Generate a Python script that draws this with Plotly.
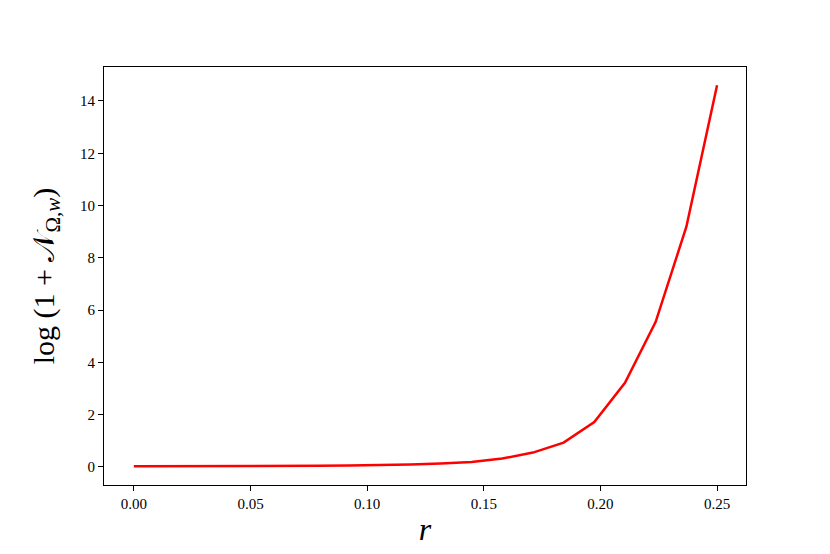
import plotly.graph_objects as go

r_vals = [0.25 * i / 19 for i in range(20)]
log_n = [0.025, 0.025, 0.03, 0.03, 0.035, 0.04, 0.045, 0.055, 0.07, 0.09,
         0.13, 0.19, 0.32, 0.55, 0.93, 1.72, 3.22, 5.55, 9.19, 14.6]

x_ticks = [0.00, 0.05, 0.10, 0.15, 0.20, 0.25]
y_ticks = [0, 2, 4, 6, 8, 10, 12, 14]

font_family = "Liberation Serif, DejaVu Serif, serif"

fig = go.Figure()
fig.add_trace(go.Scatter(x=r_vals, y=log_n, mode='lines',
                         line=dict(color='red', width=2.5),
                         showlegend=False))

# page body adds ~7px offset, so margins are shifted to compensate
fig.update_layout(width=830, height=554,
                  margin=dict(l=96, r=92, t=59, b=77),
                  paper_bgcolor='white', plot_bgcolor='white',
                  font=dict(family=font_family, color='black', size=15))

fig.update_xaxes(range=[-0.0128, 0.2624], tickvals=x_ticks,
                 ticktext=[f'{v:.2f}' for v in x_ticks],
                 ticks='outside', ticklen=5, tickwidth=1, tickcolor='black',
                 showline=True, linecolor='black', linewidth=1, mirror=True,
                 showgrid=False, zeroline=False,
                 title=dict(text='<i>r</i>', font=dict(size=32, family=font_family), standoff=6))
fig.update_yaxes(range=[-0.69, 15.3], tickvals=y_ticks,
                 ticks='outside', ticklen=5, tickwidth=1, tickcolor='black',
                 showline=True, linecolor='black', linewidth=1, mirror=True,
                 showgrid=False, zeroline=False,
                 title=dict(text='log (1 + 𝒩<sub>Ω,<i>w</i></sub>)',
                            font=dict(size=30, family=font_family), standoff=16))

fig.write_html("out.html")
